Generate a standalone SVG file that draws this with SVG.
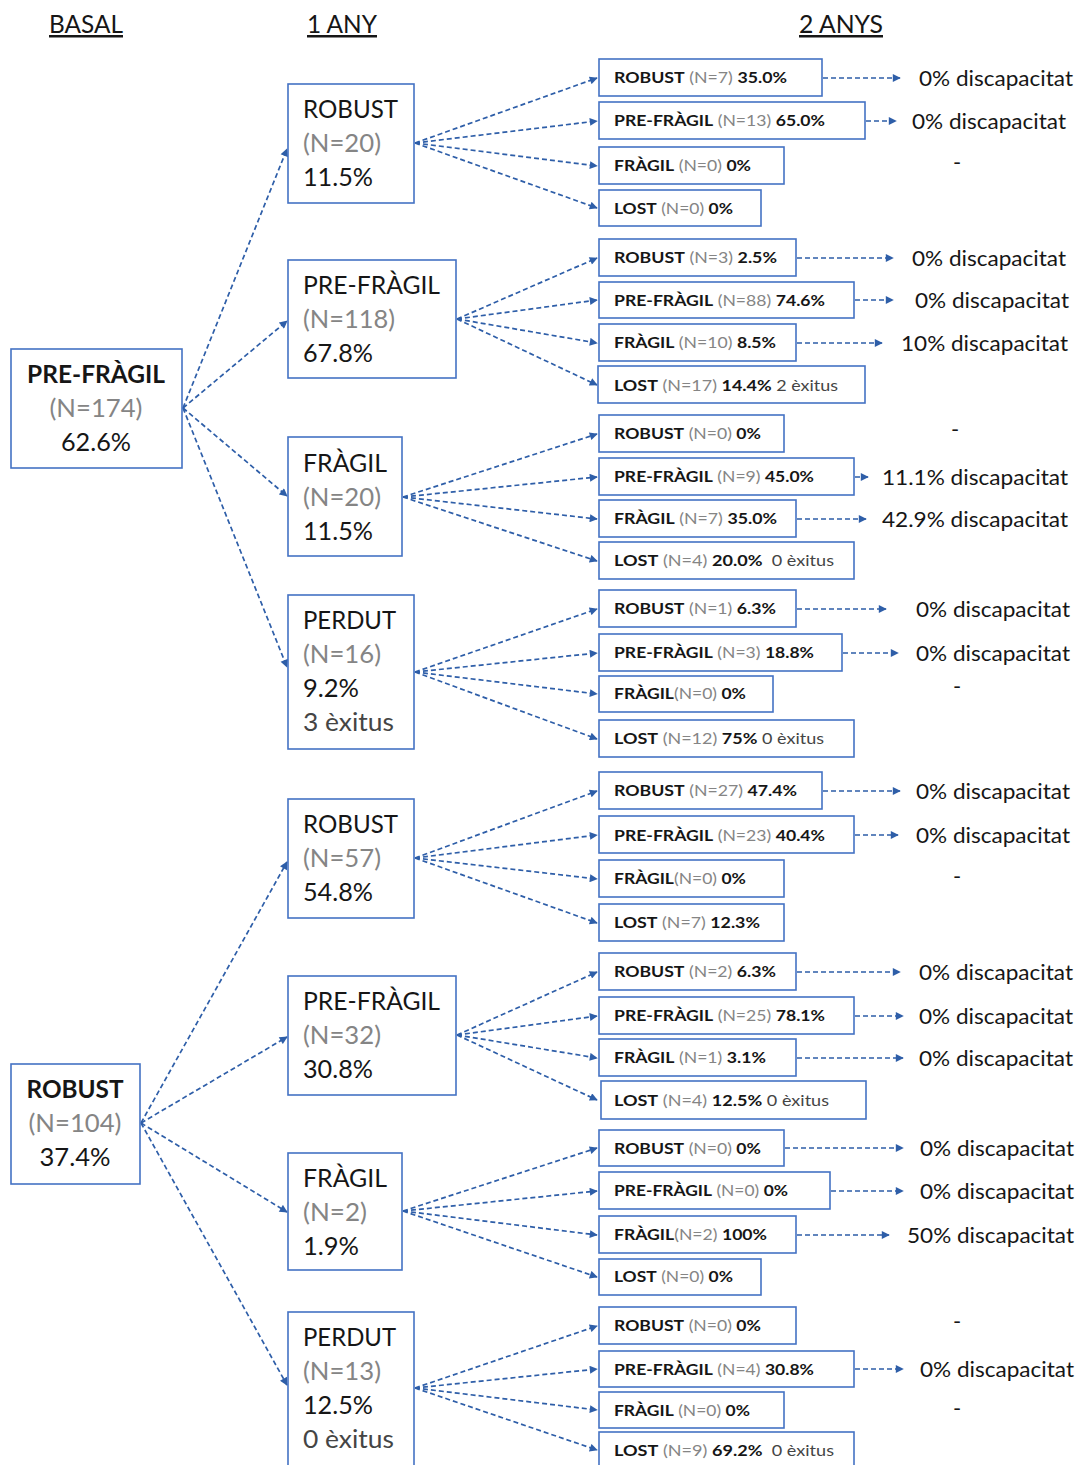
<svg xmlns="http://www.w3.org/2000/svg" width="1082" height="1465" viewBox="0 0 1082 1465">
<defs>
<marker id="ah" viewBox="0 0 10 10" refX="9" refY="5" markerWidth="9" markerHeight="8" markerUnits="userSpaceOnUse" orient="auto"><path d="M0,0 L10,5 L0,10 z" fill="#2E5EA8"/></marker>
<style>
text{font-family:Lato,"Open Sans","Liberation Sans",sans-serif;fill:#161616}
.b{fill:#fff;stroke:#4472C4;stroke-width:1.6}
.c{fill:none;stroke:#2E5EA8;stroke-width:1.7;stroke-dasharray:5 3;marker-end:url(#ah)}
.h{font-size:25px;text-decoration:underline}
.n{font-size:25px}
.s{font-size:16px}
.l{font-size:22px}
.bo{font-weight:bold}
.g{fill:#858585}
.d{fill:#454545}
</style>
</defs>
<rect width="1082" height="1465" fill="#fff"/>
<g id="headers">
<text class="h" x="86" y="33" text-anchor="middle" textLength="74" lengthAdjust="spacingAndGlyphs">BASAL</text>
<text class="h" x="342" y="33" text-anchor="middle" textLength="70" lengthAdjust="spacingAndGlyphs">1 ANY</text>
<text class="h" x="841" y="33" text-anchor="middle" textLength="84" lengthAdjust="spacingAndGlyphs">2 ANYS</text>
</g>
<g id="connectors">
<line class="c" x1="183" y1="408" x2="287" y2="149"/>
<line class="c" x1="183" y1="408" x2="287" y2="321"/>
<line class="c" x1="183" y1="408" x2="287" y2="496"/>
<line class="c" x1="183" y1="408" x2="287" y2="667"/>
<line class="c" x1="141" y1="1123" x2="287" y2="862"/>
<line class="c" x1="141" y1="1123" x2="287" y2="1037"/>
<line class="c" x1="141" y1="1123" x2="287" y2="1212"/>
<line class="c" x1="141" y1="1123" x2="287" y2="1385"/>
<line class="c" x1="415" y1="143" x2="597" y2="78"/>
<line class="c" x1="415" y1="143" x2="597" y2="121"/>
<line class="c" x1="415" y1="143" x2="597" y2="166"/>
<line class="c" x1="415" y1="143" x2="597" y2="208"/>
<line class="c" x1="457" y1="319" x2="597" y2="258"/>
<line class="c" x1="457" y1="319" x2="597" y2="300"/>
<line class="c" x1="457" y1="319" x2="597" y2="343"/>
<line class="c" x1="457" y1="319" x2="597" y2="385"/>
<line class="c" x1="403" y1="497" x2="597" y2="434"/>
<line class="c" x1="403" y1="497" x2="597" y2="477"/>
<line class="c" x1="403" y1="497" x2="597" y2="519"/>
<line class="c" x1="403" y1="497" x2="597" y2="561"/>
<line class="c" x1="415" y1="672" x2="597" y2="609"/>
<line class="c" x1="415" y1="672" x2="597" y2="653"/>
<line class="c" x1="415" y1="672" x2="597" y2="694"/>
<line class="c" x1="415" y1="672" x2="597" y2="739"/>
<line class="c" x1="415" y1="858" x2="597" y2="791"/>
<line class="c" x1="415" y1="858" x2="597" y2="835"/>
<line class="c" x1="415" y1="858" x2="597" y2="879"/>
<line class="c" x1="415" y1="858" x2="597" y2="923"/>
<line class="c" x1="457" y1="1035" x2="597" y2="972"/>
<line class="c" x1="457" y1="1035" x2="597" y2="1016"/>
<line class="c" x1="457" y1="1035" x2="597" y2="1058"/>
<line class="c" x1="457" y1="1035" x2="597" y2="1100"/>
<line class="c" x1="403" y1="1211" x2="597" y2="1148"/>
<line class="c" x1="403" y1="1211" x2="597" y2="1191"/>
<line class="c" x1="403" y1="1211" x2="597" y2="1235"/>
<line class="c" x1="403" y1="1211" x2="597" y2="1277"/>
<line class="c" x1="415" y1="1388" x2="597" y2="1326"/>
<line class="c" x1="415" y1="1388" x2="597" y2="1369"/>
<line class="c" x1="415" y1="1388" x2="597" y2="1410"/>
<line class="c" x1="415" y1="1388" x2="597" y2="1450"/>
<line class="c" x1="823" y1="78" x2="900" y2="78"/>
<line class="c" x1="866" y1="121" x2="896" y2="121"/>
<line class="c" x1="797" y1="258" x2="893" y2="258"/>
<line class="c" x1="855" y1="300" x2="893" y2="300"/>
<line class="c" x1="797" y1="343" x2="882" y2="343"/>
<line class="c" x1="855" y1="477" x2="868" y2="477"/>
<line class="c" x1="797" y1="519" x2="866" y2="519"/>
<line class="c" x1="797" y1="609" x2="886" y2="609"/>
<line class="c" x1="843" y1="653" x2="898" y2="653"/>
<line class="c" x1="823" y1="791" x2="900" y2="791"/>
<line class="c" x1="855" y1="835" x2="898" y2="835"/>
<line class="c" x1="797" y1="972" x2="900" y2="972"/>
<line class="c" x1="855" y1="1016" x2="903" y2="1016"/>
<line class="c" x1="797" y1="1058" x2="903" y2="1058"/>
<line class="c" x1="785" y1="1148" x2="903" y2="1148"/>
<line class="c" x1="831" y1="1191" x2="903" y2="1191"/>
<line class="c" x1="797" y1="1235" x2="889" y2="1235"/>
<line class="c" x1="855" y1="1369" x2="903" y2="1369"/>
</g>
<g id="basal-prefragil">
<rect class="b" x="11" y="349" width="171" height="119"/>
<text class="n bo" x="96" y="383" text-anchor="middle" textLength="138" lengthAdjust="spacingAndGlyphs">PRE-FRÀGIL</text>
<text class="n g" x="96" y="417" text-anchor="middle" textLength="93" lengthAdjust="spacingAndGlyphs">(N=174)</text>
<text class="n" x="96" y="451" text-anchor="middle" textLength="70" lengthAdjust="spacingAndGlyphs">62.6%</text>
</g>
<g id="basal-robust">
<rect class="b" x="11" y="1064" width="129" height="120"/>
<text class="n bo" x="75" y="1098" text-anchor="middle" textLength="97" lengthAdjust="spacingAndGlyphs">ROBUST</text>
<text class="n g" x="75" y="1132" text-anchor="middle" textLength="93" lengthAdjust="spacingAndGlyphs">(N=104)</text>
<text class="n" x="75" y="1166" text-anchor="middle" textLength="71" lengthAdjust="spacingAndGlyphs">37.4%</text>
</g>
<g id="y1-robust-20">
<rect class="b" x="288" y="84" width="126" height="119"/>
<text class="n" x="303" y="118" textLength="95" lengthAdjust="spacingAndGlyphs">ROBUST</text>
<text class="n g" x="303" y="152" textLength="78" lengthAdjust="spacingAndGlyphs">(N=20)</text>
<text class="n" x="303" y="186" textLength="70" lengthAdjust="spacingAndGlyphs">11.5%</text>
</g>
<g id="y1-prefragil-118">
<rect class="b" x="288" y="260" width="168" height="118"/>
<text class="n" x="303" y="294" textLength="137" lengthAdjust="spacingAndGlyphs">PRE-FRÀGIL</text>
<text class="n g" x="303" y="328" textLength="92" lengthAdjust="spacingAndGlyphs">(N=118)</text>
<text class="n" x="303" y="362" textLength="70" lengthAdjust="spacingAndGlyphs">67.8%</text>
</g>
<g id="y1-fragil-20">
<rect class="b" x="288" y="437" width="114" height="119"/>
<text class="n" x="303" y="472" textLength="84" lengthAdjust="spacingAndGlyphs">FRÀGIL</text>
<text class="n g" x="303" y="506" textLength="78" lengthAdjust="spacingAndGlyphs">(N=20)</text>
<text class="n" x="303" y="540" textLength="70" lengthAdjust="spacingAndGlyphs">11.5%</text>
</g>
<g id="y1-perdut-16">
<rect class="b" x="288" y="595" width="126" height="154"/>
<text class="n" x="303" y="629" textLength="93" lengthAdjust="spacingAndGlyphs">PERDUT</text>
<text class="n g" x="303" y="663" textLength="78" lengthAdjust="spacingAndGlyphs">(N=16)</text>
<text class="n" x="303" y="697" textLength="56" lengthAdjust="spacingAndGlyphs">9.2%</text>
<text class="n d" x="303" y="731" textLength="91" lengthAdjust="spacingAndGlyphs">3 èxitus</text>
</g>
<g id="y1-robust-57">
<rect class="b" x="288" y="799" width="126" height="119"/>
<text class="n" x="303" y="833" textLength="95" lengthAdjust="spacingAndGlyphs">ROBUST</text>
<text class="n g" x="303" y="867" textLength="78" lengthAdjust="spacingAndGlyphs">(N=57)</text>
<text class="n" x="303" y="901" textLength="70" lengthAdjust="spacingAndGlyphs">54.8%</text>
</g>
<g id="y1-prefragil-32">
<rect class="b" x="288" y="976" width="168" height="119"/>
<text class="n" x="303" y="1010" textLength="137" lengthAdjust="spacingAndGlyphs">PRE-FRÀGIL</text>
<text class="n g" x="303" y="1044" textLength="78" lengthAdjust="spacingAndGlyphs">(N=32)</text>
<text class="n" x="303" y="1078" textLength="70" lengthAdjust="spacingAndGlyphs">30.8%</text>
</g>
<g id="y1-fragil-2">
<rect class="b" x="288" y="1153" width="114" height="117"/>
<text class="n" x="303" y="1187" textLength="84" lengthAdjust="spacingAndGlyphs">FRÀGIL</text>
<text class="n g" x="303" y="1221" textLength="64" lengthAdjust="spacingAndGlyphs">(N=2)</text>
<text class="n" x="303" y="1255" textLength="56" lengthAdjust="spacingAndGlyphs">1.9%</text>
</g>
<g id="y1-perdut-13">
<rect class="b" x="288" y="1312" width="126" height="160"/>
<text class="n" x="303" y="1346" textLength="93" lengthAdjust="spacingAndGlyphs">PERDUT</text>
<text class="n g" x="303" y="1380" textLength="78" lengthAdjust="spacingAndGlyphs">(N=13)</text>
<text class="n" x="303" y="1414" textLength="70" lengthAdjust="spacingAndGlyphs">12.5%</text>
<text class="n d" x="303" y="1448" textLength="91" lengthAdjust="spacingAndGlyphs">0 èxitus</text>
</g>
<g id="y2-g1">
<rect class="b" x="599" y="59" width="223" height="37"/>
<text class="s" x="614" y="83" textLength="173" lengthAdjust="spacingAndGlyphs"><tspan class="bo">ROBUST</tspan> <tspan class="g">(N=7)</tspan> <tspan class="bo">35.0%</tspan></text>
<rect class="b" x="599" y="102" width="266" height="37"/>
<text class="s" x="614" y="126" textLength="211" lengthAdjust="spacingAndGlyphs"><tspan class="bo">PRE-FRÀGIL</tspan> <tspan class="g">(N=13)</tspan> <tspan class="bo">65.0%</tspan></text>
<rect class="b" x="599" y="147" width="185" height="37"/>
<text class="s" x="614" y="171" textLength="137" lengthAdjust="spacingAndGlyphs"><tspan class="bo">FRÀGIL</tspan> <tspan class="g">(N=0)</tspan> <tspan class="bo">0%</tspan></text>
<rect class="b" x="599" y="190" width="162" height="36"/>
<text class="s" x="614" y="214" textLength="119" lengthAdjust="spacingAndGlyphs"><tspan class="bo">LOST</tspan> <tspan class="g">(N=0)</tspan> <tspan class="bo">0%</tspan></text>
<text class="l" x="919" y="86" textLength="154" lengthAdjust="spacingAndGlyphs">0% discapacitat</text>
<text class="l" x="912" y="129" textLength="154" lengthAdjust="spacingAndGlyphs">0% discapacitat</text>
<text class="l" x="957" y="170" text-anchor="middle">-</text>
</g>
<g id="y2-g2">
<rect class="b" x="599" y="239" width="197" height="37"/>
<text class="s" x="614" y="263" textLength="163" lengthAdjust="spacingAndGlyphs"><tspan class="bo">ROBUST</tspan> <tspan class="g">(N=3)</tspan> <tspan class="bo">2.5%</tspan></text>
<rect class="b" x="599" y="282" width="255" height="36"/>
<text class="s" x="614" y="306" textLength="211" lengthAdjust="spacingAndGlyphs"><tspan class="bo">PRE-FRÀGIL</tspan> <tspan class="g">(N=88)</tspan> <tspan class="bo">74.6%</tspan></text>
<rect class="b" x="599" y="324" width="197" height="37"/>
<text class="s" x="614" y="348" textLength="162" lengthAdjust="spacingAndGlyphs"><tspan class="bo">FRÀGIL</tspan> <tspan class="g">(N=10)</tspan> <tspan class="bo">8.5%</tspan></text>
<rect class="b" x="598" y="366" width="267" height="37"/>
<text class="s" x="614" y="391" textLength="224" lengthAdjust="spacingAndGlyphs"><tspan class="bo">LOST</tspan> <tspan class="g">(N=17)</tspan> <tspan class="bo">14.4%</tspan> <tspan class="d">2 èxitus</tspan></text>
<text class="l" x="912" y="266" textLength="154" lengthAdjust="spacingAndGlyphs">0% discapacitat</text>
<text class="l" x="915" y="308" textLength="154" lengthAdjust="spacingAndGlyphs">0% discapacitat</text>
<text class="l" x="901" y="351" textLength="167" lengthAdjust="spacingAndGlyphs">10% discapacitat</text>
</g>
<g id="y2-g3">
<rect class="b" x="599" y="415" width="185" height="37"/>
<text class="s" x="614" y="439" textLength="147" lengthAdjust="spacingAndGlyphs"><tspan class="bo">ROBUST</tspan> <tspan class="g">(N=0)</tspan> <tspan class="bo">0%</tspan></text>
<rect class="b" x="599" y="458" width="255" height="37"/>
<text class="s" x="614" y="482" textLength="200" lengthAdjust="spacingAndGlyphs"><tspan class="bo">PRE-FRÀGIL</tspan> <tspan class="g">(N=9)</tspan> <tspan class="bo">45.0%</tspan></text>
<rect class="b" x="599" y="500" width="197" height="37"/>
<text class="s" x="614" y="524" textLength="163" lengthAdjust="spacingAndGlyphs"><tspan class="bo">FRÀGIL</tspan> <tspan class="g">(N=7)</tspan> <tspan class="bo">35.0%</tspan></text>
<rect class="b" x="599" y="542" width="255" height="37"/>
<text class="s" x="614" y="566" textLength="220" lengthAdjust="spacingAndGlyphs" xml:space="preserve"><tspan class="bo">LOST</tspan> <tspan class="g">(N=4)</tspan> <tspan class="bo">20.0%</tspan>  <tspan class="d">0 èxitus</tspan></text>
<text class="l" x="955" y="437" text-anchor="middle">-</text>
<text class="l" x="882" y="485" textLength="186" lengthAdjust="spacingAndGlyphs">11.1% discapacitat</text>
<text class="l" x="882" y="527" textLength="186" lengthAdjust="spacingAndGlyphs">42.9% discapacitat</text>
</g>
<g id="y2-g4">
<rect class="b" x="599" y="590" width="197" height="37"/>
<text class="s" x="614" y="614" textLength="162" lengthAdjust="spacingAndGlyphs"><tspan class="bo">ROBUST</tspan> <tspan class="g">(N=1)</tspan> <tspan class="bo">6.3%</tspan></text>
<rect class="b" x="599" y="634" width="243" height="37"/>
<text class="s" x="614" y="658" textLength="200" lengthAdjust="spacingAndGlyphs"><tspan class="bo">PRE-FRÀGIL</tspan> <tspan class="g">(N=3)</tspan> <tspan class="bo">18.8%</tspan></text>
<rect class="b" x="599" y="676" width="174" height="36"/>
<text class="s" x="614" y="699" textLength="132" lengthAdjust="spacingAndGlyphs"><tspan class="bo">FRÀGIL</tspan><tspan class="g">(N=0)</tspan> <tspan class="bo">0%</tspan></text>
<rect class="b" x="599" y="720" width="255" height="37"/>
<text class="s" x="614" y="744" textLength="210" lengthAdjust="spacingAndGlyphs"><tspan class="bo">LOST</tspan> <tspan class="g">(N=12)</tspan> <tspan class="bo">75%</tspan> <tspan class="d">0 èxitus</tspan></text>
<text class="l" x="916" y="617" textLength="154" lengthAdjust="spacingAndGlyphs">0% discapacitat</text>
<text class="l" x="916" y="661" textLength="154" lengthAdjust="spacingAndGlyphs">0% discapacitat</text>
<text class="l" x="957" y="694" text-anchor="middle">-</text>
</g>
<g id="y2-g5">
<rect class="b" x="599" y="772" width="223" height="37"/>
<text class="s" x="614" y="796" textLength="183" lengthAdjust="spacingAndGlyphs"><tspan class="bo">ROBUST</tspan> <tspan class="g">(N=27)</tspan> <tspan class="bo">47.4%</tspan></text>
<rect class="b" x="599" y="816" width="255" height="37"/>
<text class="s" x="614" y="841" textLength="211" lengthAdjust="spacingAndGlyphs"><tspan class="bo">PRE-FRÀGIL</tspan> <tspan class="g">(N=23)</tspan> <tspan class="bo">40.4%</tspan></text>
<rect class="b" x="599" y="860" width="185" height="37"/>
<text class="s" x="614" y="884" textLength="132" lengthAdjust="spacingAndGlyphs"><tspan class="bo">FRÀGIL</tspan><tspan class="g">(N=0)</tspan> <tspan class="bo">0%</tspan></text>
<rect class="b" x="599" y="904" width="185" height="37"/>
<text class="s" x="614" y="928" textLength="146" lengthAdjust="spacingAndGlyphs"><tspan class="bo">LOST</tspan> <tspan class="g">(N=7)</tspan> <tspan class="bo">12.3%</tspan></text>
<text class="l" x="916" y="799" textLength="154" lengthAdjust="spacingAndGlyphs">0% discapacitat</text>
<text class="l" x="916" y="843" textLength="154" lengthAdjust="spacingAndGlyphs">0% discapacitat</text>
<text class="l" x="957" y="884" text-anchor="middle">-</text>
</g>
<g id="y2-g6">
<rect class="b" x="599" y="953" width="197" height="37"/>
<text class="s" x="614" y="977" textLength="162" lengthAdjust="spacingAndGlyphs"><tspan class="bo">ROBUST</tspan> <tspan class="g">(N=2)</tspan> <tspan class="bo">6.3%</tspan></text>
<rect class="b" x="599" y="997" width="255" height="37"/>
<text class="s" x="614" y="1021" textLength="211" lengthAdjust="spacingAndGlyphs"><tspan class="bo">PRE-FRÀGIL</tspan> <tspan class="g">(N=25)</tspan> <tspan class="bo">78.1%</tspan></text>
<rect class="b" x="599" y="1039" width="197" height="37"/>
<text class="s" x="614" y="1063" textLength="152" lengthAdjust="spacingAndGlyphs"><tspan class="bo">FRÀGIL</tspan> <tspan class="g">(N=1)</tspan> <tspan class="bo">3.1%</tspan></text>
<rect class="b" x="601" y="1081" width="265" height="38"/>
<text class="s" x="614" y="1106" textLength="215" lengthAdjust="spacingAndGlyphs"><tspan class="bo">LOST</tspan> <tspan class="g">(N=4)</tspan> <tspan class="bo">12.5%</tspan> <tspan class="d">0 èxitus</tspan></text>
<text class="l" x="919" y="980" textLength="154" lengthAdjust="spacingAndGlyphs">0% discapacitat</text>
<text class="l" x="919" y="1024" textLength="154" lengthAdjust="spacingAndGlyphs">0% discapacitat</text>
<text class="l" x="919" y="1066" textLength="154" lengthAdjust="spacingAndGlyphs">0% discapacitat</text>
</g>
<g id="y2-g7">
<rect class="b" x="599" y="1130" width="185" height="36"/>
<text class="s" x="614" y="1154" textLength="147" lengthAdjust="spacingAndGlyphs"><tspan class="bo">ROBUST</tspan> <tspan class="g">(N=0)</tspan> <tspan class="bo">0%</tspan></text>
<rect class="b" x="599" y="1172" width="231" height="37"/>
<text class="s" x="614" y="1196" textLength="174" lengthAdjust="spacingAndGlyphs"><tspan class="bo">PRE-FRÀGIL</tspan> <tspan class="g">(N=0)</tspan> <tspan class="bo">0%</tspan></text>
<rect class="b" x="599" y="1216" width="197" height="37"/>
<text class="s" x="614" y="1240" textLength="153" lengthAdjust="spacingAndGlyphs"><tspan class="bo">FRÀGIL</tspan><tspan class="g">(N=2)</tspan> <tspan class="bo">100%</tspan></text>
<rect class="b" x="599" y="1259" width="162" height="36"/>
<text class="s" x="614" y="1282" textLength="119" lengthAdjust="spacingAndGlyphs"><tspan class="bo">LOST</tspan> <tspan class="g">(N=0)</tspan> <tspan class="bo">0%</tspan></text>
<text class="l" x="920" y="1156" textLength="154" lengthAdjust="spacingAndGlyphs">0% discapacitat</text>
<text class="l" x="920" y="1199" textLength="154" lengthAdjust="spacingAndGlyphs">0% discapacitat</text>
<text class="l" x="907" y="1243" textLength="167" lengthAdjust="spacingAndGlyphs">50% discapacitat</text>
</g>
<g id="y2-g8">
<rect class="b" x="599" y="1307" width="197" height="37"/>
<text class="s" x="614" y="1331" textLength="147" lengthAdjust="spacingAndGlyphs"><tspan class="bo">ROBUST</tspan> <tspan class="g">(N=0)</tspan> <tspan class="bo">0%</tspan></text>
<rect class="b" x="599" y="1351" width="255" height="36"/>
<text class="s" x="614" y="1375" textLength="200" lengthAdjust="spacingAndGlyphs"><tspan class="bo">PRE-FRÀGIL</tspan> <tspan class="g">(N=4)</tspan> <tspan class="bo">30.8%</tspan></text>
<rect class="b" x="599" y="1392" width="185" height="36"/>
<text class="s" x="614" y="1416" textLength="136" lengthAdjust="spacingAndGlyphs"><tspan class="bo">FRÀGIL</tspan> <tspan class="g">(N=0)</tspan> <tspan class="bo">0%</tspan></text>
<rect class="b" x="599" y="1432" width="255" height="40"/>
<text class="s" x="614" y="1456" textLength="220" lengthAdjust="spacingAndGlyphs" xml:space="preserve"><tspan class="bo">LOST</tspan> <tspan class="g">(N=9)</tspan> <tspan class="bo">69.2%</tspan>  <tspan class="d">0 èxitus</tspan></text>
<text class="l" x="957" y="1329" text-anchor="middle">-</text>
<text class="l" x="920" y="1377" textLength="154" lengthAdjust="spacingAndGlyphs">0% discapacitat</text>
<text class="l" x="957" y="1416" text-anchor="middle">-</text>
</g>
</svg>
